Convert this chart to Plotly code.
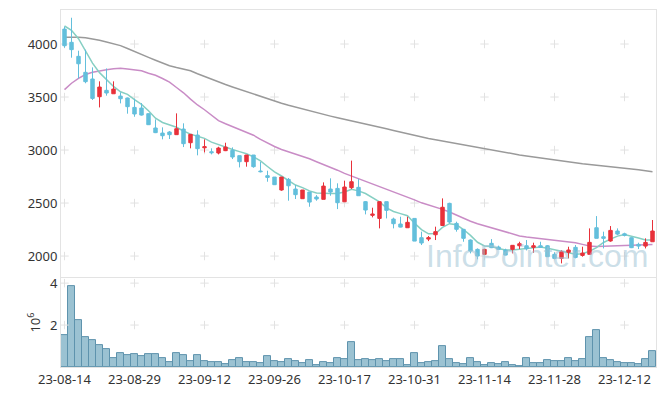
import plotly.graph_objects as go

dates = [
    "2023-08-14", "2023-08-16", "2023-08-17", "2023-08-18", "2023-08-21", "2023-08-22", "2023-08-23",
    "2023-08-24", "2023-08-25", "2023-08-28", "2023-08-29", "2023-08-30", "2023-08-31", "2023-09-01",
    "2023-09-04", "2023-09-05", "2023-09-06", "2023-09-07", "2023-09-08", "2023-09-11", "2023-09-12",
    "2023-09-13", "2023-09-14", "2023-09-15", "2023-09-18", "2023-09-19", "2023-09-20", "2023-09-21",
    "2023-09-22", "2023-09-25", "2023-09-26", "2023-09-27", "2023-10-04", "2023-10-05", "2023-10-06",
    "2023-10-10", "2023-10-11", "2023-10-12", "2023-10-13", "2023-10-16", "2023-10-17", "2023-10-18",
    "2023-10-19", "2023-10-20", "2023-10-23", "2023-10-24", "2023-10-25", "2023-10-26", "2023-10-27",
    "2023-10-30", "2023-10-31", "2023-11-01", "2023-11-02", "2023-11-03", "2023-11-06", "2023-11-07",
    "2023-11-08", "2023-11-09", "2023-11-10", "2023-11-13", "2023-11-14", "2023-11-15", "2023-11-16",
    "2023-11-17", "2023-11-20", "2023-11-21", "2023-11-22", "2023-11-23", "2023-11-24", "2023-11-27",
    "2023-11-28", "2023-11-29", "2023-11-30", "2023-12-01", "2023-12-04", "2023-12-05", "2023-12-06",
    "2023-12-07", "2023-12-08", "2023-12-11", "2023-12-12", "2023-12-13", "2023-12-14", "2023-12-15",
    "2023-12-18",
]

opens = [4141, 4016, 3884, 3733, 3670, 3503, 3563, 3531, 3509, 3491, 3402, 3396, 3343, 3208, 3160,
         3170, 3145, 3198, 3069, 3141, 3021, 2984, 2972, 2994, 2997, 2947, 2890, 2953, 2802, 2758,
         2745, 2623, 2723, 2632, 2541, 2604, 2557, 2535, 2632, 2638, 2512, 2645, 2648, 2513, 2384,
         2355, 2513, 2349, 2302, 2267, 2355, 2173, 2160, 2201, 2288, 2497, 2308, 2252, 2151, 2063,
         2016, 2120, 2085, 2057, 2063, 2097, 2097, 2082, 2097, 2097, 2016, 1978, 2035, 2082, 2006,
         2016, 2267, 2182, 2142, 2236, 2210, 2173, 2110, 2094, 2135]
highs = [4164, 4248, 3937, 3946, 3780, 3648, 3770, 3648, 3544, 3495, 3484, 3443, 3345, 3289, 3214,
         3179, 3346, 3252, 3150, 3186, 3101, 3016, 3031, 3069, 3025, 2947, 2953, 2953, 2887, 2805,
         2745, 2745, 2736, 2670, 2623, 2604, 2575, 2695, 2733, 2686, 2711, 2900, 2726, 2519, 2456,
         2513, 2513, 2362, 2371, 2371, 2355, 2230, 2189, 2277, 2544, 2503, 2324, 2252, 2157, 2072,
         2069, 2160, 2098, 2069, 2104, 2135, 2151, 2126, 2135, 2104, 2035, 2057, 2088, 2104, 2088,
         2261, 2377, 2230, 2283, 2261, 2220, 2176, 2126, 2167, 2340]
lows = [3965, 3871, 3676, 3630, 3472, 3402, 3513, 3531, 3440, 3343, 3314, 3325, 3236, 3160, 3101,
        3104, 3145, 3028, 3016, 2950, 2978, 2959, 2959, 2990, 2915, 2836, 2843, 2833, 2789, 2701,
        2670, 2616, 2522, 2538, 2541, 2465, 2522, 2535, 2569, 2443, 2512, 2632, 2569, 2393, 2365,
        2261, 2355, 2261, 2270, 2267, 2141, 2104, 2141, 2151, 2286, 2308, 2230, 2135, 2025, 1969,
        2016, 2075, 2057, 2006, 2025, 2066, 2053, 2031, 2080, 1994, 1975, 1931, 1978, 1978, 1994,
        2016, 2167, 2072, 2135, 2198, 2185, 2075, 2066, 2072, 2135]
closes = [3984, 3947, 3814, 3645, 3487, 3594, 3538, 3575, 3484, 3409, 3340, 3330, 3239, 3164, 3135,
          3145, 3201, 3060, 3148, 3013, 3031, 2975, 3019, 3028, 2934, 2890, 2953, 2843, 2796, 2742,
          2673, 2745, 2663, 2579, 2623, 2509, 2538, 2660, 2604, 2503, 2651, 2701, 2569, 2434, 2396,
          2513, 2431, 2305, 2273, 2318, 2141, 2123, 2173, 2230, 2460, 2321, 2252, 2167, 2047, 2000,
          2063, 2079, 2063, 2009, 2101, 2116, 2069, 2097, 2082, 1994, 1978, 2041, 2057, 1987, 2028,
          2129, 2167, 2167, 2242, 2207, 2195, 2079, 2094, 2129, 2236]

ma5 = [4170, 4130, 4050, 3940, 3820, 3730, 3660, 3600, 3550, 3525, 3475, 3430, 3370, 3300, 3260,
       3235, 3215, 3180, 3150, 3130, 3110, 3075, 3050, 3030, 3005, 2985, 2965, 2935, 2897, 2845,
       2795, 2755, 2710, 2670, 2645, 2615, 2595, 2590, 2590, 2590, 2605, 2630, 2615, 2590, 2550,
       2510, 2455, 2420, 2400, 2380, 2310, 2250, 2210, 2212, 2270, 2305, 2295, 2250, 2195, 2130,
       2095, 2090, 2072, 2058, 2058, 2064, 2072, 2080, 2085, 2073, 2058, 2041, 2028, 2016, 2022,
       2045, 2080, 2128, 2160, 2188, 2204, 2190, 2170, 2151, 2151]
ma20 = [3570, 3630, 3676, 3712, 3733, 3747, 3757, 3766, 3771, 3765, 3756, 3748, 3725, 3706, 3675,
        3640, 3590, 3540, 3480, 3425, 3380, 3325, 3278, 3248, 3222, 3195, 3170, 3140, 3100, 3063,
        3033, 3005, 2985, 2965, 2945, 2918, 2890, 2865, 2838, 2810, 2780, 2755, 2730, 2705, 2680,
        2657, 2635, 2610, 2585, 2560, 2530, 2502, 2482, 2463, 2440, 2415, 2385, 2355, 2328, 2305,
        2285, 2265, 2247, 2225, 2205, 2190, 2180, 2172, 2165, 2157, 2150, 2142, 2135, 2125, 2110,
        2095, 2090, 2092, 2096, 2100, 2103, 2104, 2106, 2108, 2110]
ma60 = [4063, 4065, 4064, 4060, 4050, 4036, 4020, 4002, 3985, 3958, 3928, 3900, 3874, 3847, 3820,
        3795, 3778, 3763, 3748, 3720, 3693, 3668, 3642, 3618, 3595, 3572, 3550, 3527, 3505, 3482,
        3460, 3441, 3422, 3404, 3387, 3370, 3353, 3337, 3320, 3304, 3290, 3276, 3262, 3247, 3232,
        3216, 3200, 3184, 3168, 3152, 3136, 3122, 3108, 3096, 3084, 3071, 3058, 3045, 3033, 3020,
        3007, 2995, 2984, 2974, 2964, 2954, 2944, 2934, 2924, 2914, 2905, 2896, 2887, 2878, 2870,
        2863, 2857, 2851, 2845, 2838, 2830, 2822, 2813, 2804, 2795]

volumes_m = [1.51, 3.84, 2.22, 1.41, 1.27, 1.03, 0.84, 0.41, 0.65, 0.56, 0.60, 0.51, 0.60, 0.60, 0.41,
             0.22, 0.65, 0.56, 0.27, 0.56, 0.27, 0.22, 0.22, 0.13, 0.32, 0.41, 0.22, 0.22, 0.17, 0.51,
             0.27, 0.22, 0.37, 0.27, 0.17, 0.32, 0.08, 0.22, 0.17, 0.41, 0.37, 1.17, 0.33, 0.37, 0.32,
             0.37, 0.27, 0.37, 0.37, 0.08, 0.65, 0.17, 0.22, 0.27, 0.98, 0.37, 0.17, 0.13, 0.41, 0.22,
             0.08, 0.17, 0.13, 0.22, 0.08, 0.03, 0.41, 0.17, 0.17, 0.32, 0.27, 0.27, 0.41, 0.27, 0.37,
             1.41, 1.75, 0.41, 0.32, 0.22, 0.17, 0.17, 0.13, 0.37, 0.75]

price_ticks = [2000, 2500, 3000, 3500, 4000]
volume_ticks = [2, 4]
tick_step = 10
tick_dates = dates[::tick_step]
tick_labels = [d[2:] for d in tick_dates]

RED = "#e8313a"
BLUE = "#63bfdc"
GRID = "#e2e2e2"
FRAME = "#e3e3e3"
FONT = "Noto Sans"
PRICE_RANGE = [1802, 4321]

fig = go.Figure()

# grid crosses at tick intersections (drawn first, underneath)
gx, gy = [], []
for d in tick_dates:
    for p in price_ticks:
        gx.append(d); gy.append(p)
fig.add_trace(go.Scatter(x=gx, y=gy, mode="markers", xaxis="x", yaxis="y",
                         marker=dict(symbol="cross-thin", size=6, line=dict(width=1, color=GRID)),
                         hoverinfo="skip", showlegend=False))
vx, vy = [], []
for d in tick_dates:
    for v in volume_ticks:
        vx.append(d); vy.append(v)
fig.add_trace(go.Scatter(x=vx, y=vy, mode="markers", xaxis="x2", yaxis="y2",
                         marker=dict(symbol="cross-thin", size=6, line=dict(width=1, color=GRID)),
                         hoverinfo="skip", showlegend=False))

fig.add_trace(go.Scatter(x=dates, y=ma60, mode="lines", line=dict(color="#9a9a9a", width=1.5),
                         xaxis="x", yaxis="y", showlegend=False, hoverinfo="skip"))
fig.add_trace(go.Scatter(x=dates, y=ma20, mode="lines", line=dict(color="#c98cc6", width=1.5),
                         xaxis="x", yaxis="y", showlegend=False, hoverinfo="skip"))
fig.add_trace(go.Scatter(x=dates, y=ma5, mode="lines", line=dict(color="#86cfc3", width=1.5),
                         xaxis="x", yaxis="y", showlegend=False, hoverinfo="skip"))

# candles on an overlaying axis so they are drawn above the average lines
fig.add_trace(go.Candlestick(x=dates, open=opens, high=highs, low=lows, close=closes,
                             xaxis="x", yaxis="y3", showlegend=False, whiskerwidth=0,
                             increasing=dict(line=dict(color=RED, width=1), fillcolor=RED),
                             decreasing=dict(line=dict(color=BLUE, width=1), fillcolor=BLUE)))

fig.add_trace(go.Bar(x=dates, y=volumes_m, xaxis="x2", yaxis="y2", showlegend=False,
                     marker=dict(color="#9bc2d2", line=dict(color="#5e93ad", width=1)),
                     width=1.0))

# the page body has an 8px margin, so the figure is sized to the visible area
fig.update_layout(
    width=649, height=380,
    margin=dict(l=53, r=1, t=2, b=21, autoexpand=False),
    paper_bgcolor="white", plot_bgcolor="white",
    font=dict(family=FONT, size=13, color="#333333"),
    bargap=0,
    xaxis=dict(type="category", categoryorder="array", categoryarray=dates,
               domain=[0, 1], anchor="y", range=[-0.5, 84.5],
               showticklabels=False, showgrid=False, zeroline=False, automargin=False,
               showline=True, mirror=True, linecolor=FRAME, linewidth=1,
               rangeslider=dict(visible=False), matches="x2"),
    yaxis=dict(domain=[0.252, 1], anchor="x", range=PRICE_RANGE, tickvals=price_ticks,
               showgrid=False, zeroline=False, showline=True, mirror=True,
               linecolor=FRAME, linewidth=1, ticks="", automargin=False),
    yaxis3=dict(overlaying="y", anchor="x", range=PRICE_RANGE, showticklabels=False,
                showgrid=False, zeroline=False, showline=False, automargin=False),
    xaxis2=dict(type="category", categoryorder="array", categoryarray=dates,
                domain=[0, 1], anchor="y2", range=[-0.5, 84.5],
                tickvals=tick_dates, ticktext=tick_labels, tickangle=0,
                showgrid=False, zeroline=False, automargin=False,
                showline=True, mirror=True, linecolor=FRAME, linewidth=1, ticks=""),
    yaxis2=dict(domain=[0, 0.249], anchor="x2", range=[0, 4.24], tickvals=volume_ticks,
                showgrid=False, zeroline=False, showline=True, mirror=True,
                linecolor=FRAME, linewidth=1, ticks="", automargin=False,
                title=dict(text="10<sup>6</sup>", standoff=6, font=dict(size=13))),
    annotations=[dict(text="InfoPointer.com", xref="paper", yref="paper", x=0.99, y=0.255,
                      xanchor="right", yanchor="bottom", showarrow=False,
                      font=dict(family="Liberation Sans", size=32, color="rgba(160,195,212,0.55)"))],
)

fig.write_html("out.html")
